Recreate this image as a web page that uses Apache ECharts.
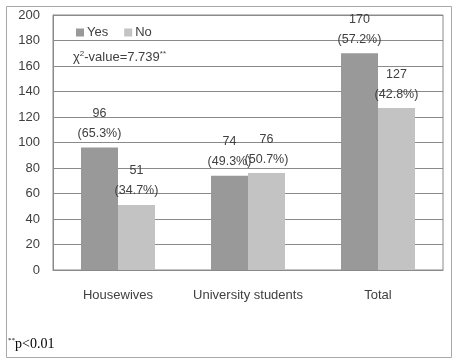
<!DOCTYPE html>
<html>
<head>
<meta charset="utf-8">
<script src="https://cdn.jsdelivr.net/npm/echarts@6/dist/echarts.min.js"></script>
<style>
html,body{margin:0;padding:0;background:#fff;}
#chart{width:454px;height:360px;}
</style>
</head>
<body>
<div id="chart"></div>
<script>
var categories = ['Housewives', 'University students', 'Total'];
var yesValues = [96, 74, 170];
var noValues = [51, 76, 127];
var yesPercents = ['65.3%', '49.3%', '57.2%'];
var noPercents = ['34.7%', '50.7%', '42.8%'];
var seriesNames = ['Yes', 'No'];
var yTicks = {min: 0, max: 200, interval: 20};

var FONT = 'Liberation Sans';
var TXT = '#404040';

var chart = echarts.init(document.getElementById('chart'), null, {renderer: 'canvas'});

function labelFor(percents) {
  return {
    show: true,
    position: 'top',
    distance: 4,
    color: TXT,
    fontFamily: FONT,
    fontSize: 12.5,
    lineHeight: 20,
    formatter: function (p) {
      return p.value + '\n(' + percents[p.dataIndex] + ')';
    }
  };
}

chart.setOption({
  animation: false,
  backgroundColor: '#fff',
  textStyle: {fontFamily: FONT},
  grid: {left: 53, right: 11, top: 15, bottom: 90, show: true, borderColor: '#8a8a8a', borderWidth: 1},
  legend: {
    data: seriesNames,
    left: 71, top: 21,
    icon: 'rect', itemWidth: 8, itemHeight: 8, itemGap: 16,
    textStyle: {color: TXT, fontFamily: FONT, fontSize: 13, padding: [0,0,0,-2]}
  },
  xAxis: {
    type: 'category',
    data: categories,
    axisLine: {show: true, lineStyle: {color: '#8a8a8a'}},
    axisTick: {show: false},
    axisLabel: {color: TXT, fontFamily: FONT, fontSize: 13, margin: 19, interval: 0}
  },
  yAxis: {
    type: 'value',
    min: yTicks.min, max: yTicks.max, interval: yTicks.interval,
    axisLine: {show: true, lineStyle: {color: '#8a8a8a'}},
    axisTick: {show: false},
    axisLabel: {color: TXT, fontFamily: FONT, fontSize: 13, margin: 13},
    splitLine: {show: true, lineStyle: {color: '#8a8a8a', width: 1}}
  },
  series: [
    {name: seriesNames[0], type: 'bar', data: yesValues, barWidth: 37, barGap: '0%',
     itemStyle: {color: '#999999'}, label: labelFor(yesPercents)},
    {name: seriesNames[1], type: 'bar', data: noValues, barWidth: 37, barGap: '0%',
     itemStyle: {color: '#c3c3c3'}, label: labelFor(noPercents)}
  ],
  graphic: [
    {type: 'rect', left: 4, top: 4, shape: {width: 445, height: 351},
     style: {fill: 'none', stroke: '#a8a8a8', lineWidth: 1}, z: -1, silent: true},
    {type: 'text', left: 73, top: 50,
     style: {
       text: '{a|χ}{s|2}{a|-value=7.739}{s|**}',
       rich: {
         a: {fontFamily: FONT, fontSize: 13, fill: TXT, color: TXT},
         s: {fontFamily: FONT, fontSize: 8, fill: TXT, color: TXT, verticalAlign: 'top', padding: [0,0,6,0]}
       }
     }},
    {type: 'text', left: 8, top: 337,
     style: {
       text: '{s|**}{a|p<0.01}',
       rich: {
         a: {fontFamily: 'Liberation Serif', fontSize: 14, fill: '#000', color: '#000'},
         s: {fontFamily: 'Liberation Serif', fontSize: 7, fill: '#000', color: '#000', padding: [0,0,8,0]}
       }
     }}
  ]
});
</script>
</body>
</html>
